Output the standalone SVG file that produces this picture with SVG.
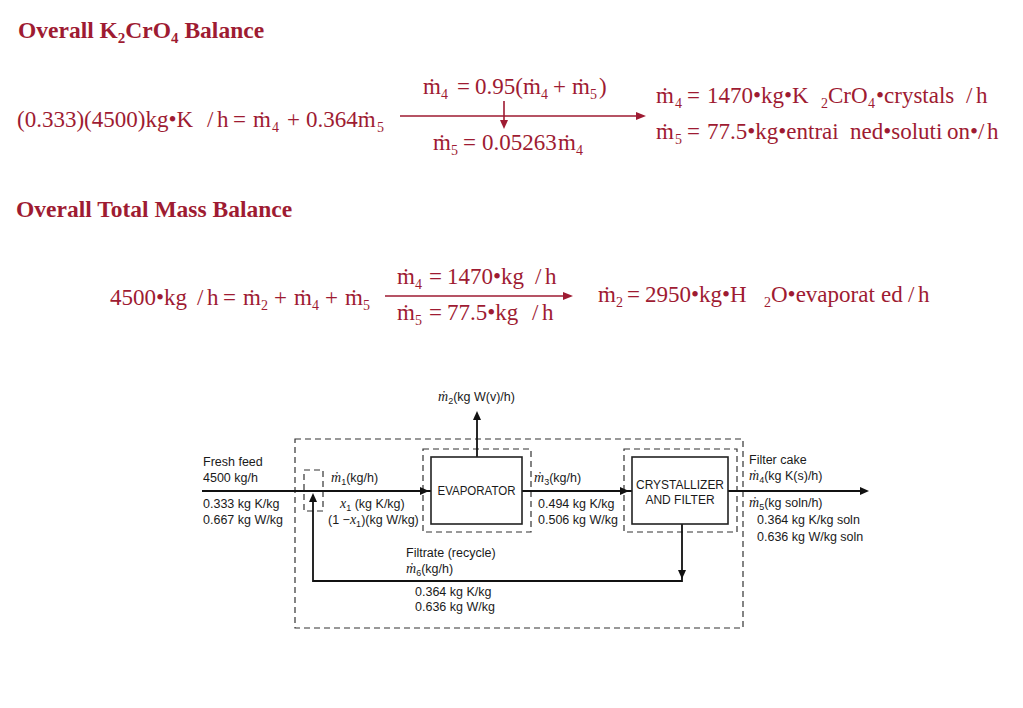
<svg xmlns="http://www.w3.org/2000/svg" width="1023" height="708" viewBox="0 0 1023 708">
<style>
.eq{font-family:"Liberation Serif","Times New Roman",serif;font-size:23px;fill:#9e1b32}
.sub{font-size:14px}
.ttl{font-family:"Liberation Serif","Times New Roman",serif;font-weight:bold;font-size:23.5px;fill:#9e1b32}
.eqline{stroke:#9e1b32;stroke-width:1.6;fill:none}
.eqhead{fill:#9e1b32}
.lbl{font-family:"Liberation Sans",Arial,sans-serif;font-size:12.5px;fill:#1a1a1a}
.blbl{font-family:"Liberation Sans",Arial,sans-serif;font-size:12px;fill:#1a1a1a}
.mi{font-family:"Liberation Serif","Times New Roman",serif;font-style:italic;font-size:14px}
.sb{font-size:9px}
.dash{fill:none;stroke:#333;stroke-width:1.2;stroke-dasharray:6 4}
.box{fill:#fff;stroke:#222;stroke-width:1.6}
.flow{fill:none;stroke:#111;stroke-width:1.8}
.head{fill:#111}
</style>
<rect width="1023" height="708" fill="#fff"/>

<g id="titles">
<text class="ttl" x="18" y="38">Overall K<tspan font-size="15" dy="5">2</tspan><tspan dy="-5">CrO</tspan><tspan font-size="15" dy="5">4</tspan><tspan dy="-5"> Balance</tspan></text>
<text class="ttl" x="16" y="217">Overall Total Mass Balance</text>
</g>

<g id="eq1">
<text class="eq" y="127"><tspan x="17">(0.333)(4500)kg•K</tspan><tspan x="207">/</tspan><tspan x="217">h</tspan><tspan x="233">=</tspan><tspan x="253">ṁ</tspan><tspan class="sub" x="272" y="132">4</tspan><tspan x="287" y="127">+</tspan><tspan x="306">0.364ṁ</tspan><tspan class="sub" x="377" y="132">5</tspan></text>
<text class="eq" y="94"><tspan x="423">ṁ</tspan><tspan class="sub" x="441" y="99">4</tspan><tspan x="457" y="94">=</tspan><tspan x="475">0.95(ṁ</tspan><tspan class="sub" x="541" y="99">4</tspan><tspan x="553" y="94">+</tspan><tspan x="572">ṁ</tspan><tspan class="sub" x="590" y="99">5</tspan><tspan x="599" y="94">)</tspan></text>
<text class="eq" y="150"><tspan x="433">ṁ</tspan><tspan class="sub" x="451" y="155">5</tspan><tspan x="463" y="150">=</tspan><tspan x="482">0.05263</tspan><tspan x="558">ṁ</tspan><tspan class="sub" x="576" y="155">4</tspan></text>
<text class="eq" y="103"><tspan x="656">ṁ</tspan><tspan class="sub" x="675" y="108">4</tspan><tspan x="687" y="103">=</tspan><tspan x="707">1470•kg•K</tspan><tspan class="sub" x="821" y="108">2</tspan><tspan x="828" y="103">CrO</tspan><tspan class="sub" x="868" y="108">4</tspan><tspan x="876" y="103">•crystals</tspan><tspan x="966">/</tspan><tspan x="976">h</tspan></text>
<text class="eq" y="139"><tspan x="656">ṁ</tspan><tspan class="sub" x="675" y="144">5</tspan><tspan x="687" y="139">=</tspan><tspan x="707">77.5•kg•entrai</tspan><tspan x="850">ned•soluti</tspan><tspan x="947">on•/</tspan><tspan x="987">h</tspan></text>
<path class="eqline" d="M400,116 H638 M504,101 V121"/>
<polygon class="eqhead" points="646,116 636,112 636,120"/>
<polygon class="eqhead" points="504,129 500,120 508,120"/>
</g>

<g id="eq2">
<text class="eq" y="305"><tspan x="110">4500•kg</tspan><tspan x="197">/</tspan><tspan x="207">h</tspan><tspan x="223">=</tspan><tspan x="243">ṁ</tspan><tspan class="sub" x="261" y="310">2</tspan><tspan x="274" y="305">+</tspan><tspan x="294">ṁ</tspan><tspan class="sub" x="312" y="310">4</tspan><tspan x="325" y="305">+</tspan><tspan x="345">ṁ</tspan><tspan class="sub" x="363" y="310">5</tspan></text>
<text class="eq" y="284"><tspan x="397">ṁ</tspan><tspan class="sub" x="415" y="289">4</tspan><tspan x="429" y="284">=</tspan><tspan x="447">1470•kg</tspan><tspan x="535">/</tspan><tspan x="545">h</tspan></text>
<text class="eq" y="320"><tspan x="397">ṁ</tspan><tspan class="sub" x="415" y="325">5</tspan><tspan x="429" y="320">=</tspan><tspan x="447">77.5•kg</tspan><tspan x="532">/</tspan><tspan x="542">h</tspan></text>
<text class="eq" y="302"><tspan x="598">ṁ</tspan><tspan class="sub" x="616" y="307">2</tspan><tspan x="627" y="302">=</tspan><tspan x="645">2950•kg•H</tspan><tspan class="sub" x="764" y="307">2</tspan><tspan x="771" y="302">O•evaporat</tspan><tspan x="881">ed</tspan><tspan x="908">/</tspan><tspan x="918">h</tspan></text>
<path class="eqline" d="M385,296 H565"/>
<polygon class="eqhead" points="573,296 563,292 563,300"/>
</g>

<g id="boundaries">
<rect class="dash" x="295" y="439" width="448" height="189"/>
<rect class="dash" x="423" y="449" width="108" height="83"/>
<rect class="dash" x="624" y="449" width="113" height="83"/>
<rect class="dash" x="304" y="470" width="19" height="41"/>
</g>

<g id="connectors">
<path class="flow" d="M202,491 H431"/>
<polygon class="head" points="429,491 420,487 420,495"/>
<path class="flow" d="M477,457 V414"/>
<polygon class="head" points="477,411 473,420 481,420"/>
<path class="flow" d="M522,491 H632"/>
<polygon class="head" points="629,491 620,487 620,495"/>
<path class="flow" d="M728,491 H862"/>
<polygon class="head" points="869,491 860,487 860,495"/>
<path class="flow" d="M682,524 V581 H313 V497"/>
<polygon class="head" points="682,579 678,570 686,570"/>
<polygon class="head" points="313,493 309,502 317,502"/>
</g>

<g id="evaporator">
<rect class="box" x="431" y="457" width="91" height="67"/>
<text class="blbl" x="476.5" y="495" text-anchor="middle" textLength="78" lengthAdjust="spacingAndGlyphs">EVAPORATOR</text>
</g>

<g id="crystallizer">
<rect class="box" x="632" y="457" width="96" height="67"/>
<text class="blbl" x="680" y="489" text-anchor="middle" textLength="88" lengthAdjust="spacingAndGlyphs">CRYSTALLIZER</text>
<text class="blbl" x="680" y="504" text-anchor="middle">AND FILTER</text>
</g>

<g id="labels">
<text class="lbl" x="438" y="401"><tspan class="mi">ṁ</tspan><tspan class="sb" dy="3">2</tspan><tspan dy="-3">(kg W(v)/h)</tspan></text>
<text class="lbl" x="203" y="466">Fresh feed</text>
<text class="lbl" x="203" y="482">4500 kg/h</text>
<text class="lbl" x="203" y="508">0.333 kg K/kg</text>
<text class="lbl" x="203" y="524">0.667 kg W/kg</text>
<text class="lbl" x="331" y="482"><tspan class="mi">ṁ</tspan><tspan class="sb" dy="3">1</tspan><tspan dy="-3">(kg/h)</tspan></text>
<text class="lbl" x="340" y="508"><tspan class="mi">x</tspan><tspan class="sb" dy="3">1</tspan><tspan dy="-3"> (kg K/kg)</tspan></text>
<text class="lbl" x="328" y="524">(1 −<tspan class="mi">x</tspan><tspan class="sb" dy="3">1</tspan><tspan dy="-3">)(kg W/kg)</tspan></text>
<text class="lbl" x="534" y="482"><tspan class="mi">ṁ</tspan><tspan class="sb" dy="3">3</tspan><tspan dy="-3">(kg/h)</tspan></text>
<text class="lbl" x="538" y="508">0.494 kg K/kg</text>
<text class="lbl" x="538" y="524">0.506 kg W/kg</text>
<text class="lbl" x="749" y="464">Filter cake</text>
<text class="lbl" x="749" y="480"><tspan class="mi">ṁ</tspan><tspan class="sb" dy="3">4</tspan><tspan dy="-3">(kg K(s)/h)</tspan></text>
<text class="lbl" x="749" y="507"><tspan class="mi">ṁ</tspan><tspan class="sb" dy="3">5</tspan><tspan dy="-3">(kg soln/h)</tspan></text>
<text class="lbl" x="757" y="524">0.364 kg K/kg soln</text>
<text class="lbl" x="757" y="541">0.636 kg W/kg soln</text>
<text class="lbl" x="406" y="557">Filtrate (recycle)</text>
<text class="lbl" x="406" y="573"><tspan class="mi">ṁ</tspan><tspan class="sb" dy="3">6</tspan><tspan dy="-3">(kg/h)</tspan></text>
<text class="lbl" x="415" y="596">0.364 kg K/kg</text>
<text class="lbl" x="415" y="611">0.636 kg W/kg</text>
</g>
</svg>
